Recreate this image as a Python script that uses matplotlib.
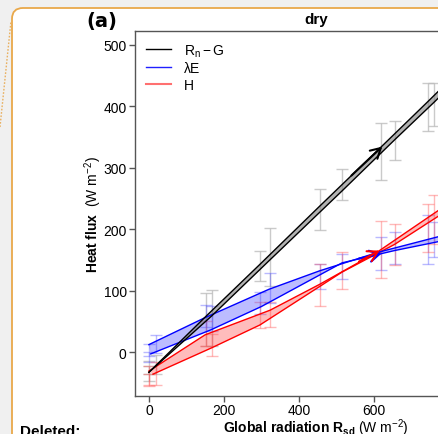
import matplotlib
matplotlib.use("Agg")
import matplotlib.pyplot as plt
from matplotlib.patches import FancyBboxPatch
from matplotlib.lines import Line2D
import numpy as np

plt.rcParams['font.family'] = ['Liberation Sans', 'DejaVu Sans']
plt.rcParams['mathtext.fontset'] = 'custom'
plt.rcParams['mathtext.rm'] = 'Liberation Sans'
plt.rcParams['mathtext.bf'] = 'Liberation Sans:bold'
plt.rcParams['mathtext.it'] = 'Liberation Sans:italic'

# ---- data: band lines (two estimates per flux) ----
rn_a_x = [0, 152, 295, 455, 620, 745, 800]
rn_a_y = [-33, 58, 142, 237, 334, 408, 441]
rn_b_x = [0, 168, 323, 515, 655, 760, 800]
rn_b_y = [-33, 59, 150, 262, 345, 406, 430]

le_a_x = [0, 150, 320, 455, 610, 800]
le_a_y = [12, 56, 102, 132, 162, 192]
le_b_x = [5, 165, 300, 515, 655, 800]
le_b_y = [-3, 36, 74, 145, 165, 183]

h_a_x = [0, 150, 323, 455, 610, 800]
h_a_y = [-31, 28, 68, 110, 163, 242]
h_b_x = [11, 168, 296, 515, 655, 800]
h_b_y = [-36, 7, 44, 130, 175, 232]

# ---- data: binned means with error bars ----
bin_x = [0, 0, 20, 152, 168, 295, 323, 455, 515, 620, 655, 745, 760]
rn_mean = [-35, -25, -20, 53, 55, 140, 155, 232, 272, 326, 344, 398, 402]
rn_err = [12, 10, 15, 43, 46, 25, 47, 33, 25, 46, 32, 39, 35]
le_mean = [3, -8, 13, 58, 55, 80, 104, 123, 139, 160, 169, 183, 183]
le_err = [10, 8, 14, 18, 20, 18, 24, 20, 20, 27, 26, 40, 28]
h_mean = [-38, -45, -35, 30, 12, 60, 61, 109, 132, 167, 175, 201, 216]
h_err = [15, 10, 18, 20, 18, 21, 20, 34, 30, 46, 33, 39, 40]

# ---- data: arrows (start, tip) ----
rn_arrow = [(540, 287), (622, 334)]
le_arrow = [(560, 152), (620, 160)]
h_arrow = [(560, 147), (615, 165)]

x_ticks = [0, 200, 400, 600]
y_ticks = [0, 100, 200, 300, 400, 500]

W, H = 438, 435
fig = plt.figure(figsize=(W / 100, H / 100), dpi=100)
fig.patch.set_facecolor('#f0f0f0')

# document frame (white comment box with orange rounded border)
box = FancyBboxPatch((12 / W, -0.2), 1.2, 1 - 9 / H + 0.2,
                     boxstyle="round,pad=0,rounding_size=0.025",
                     transform=fig.transFigure, facecolor='white',
                     edgecolor='#e9a84a', linewidth=1.3, zorder=-5)
fig.patches.append(box)
fig.lines.append(Line2D([0 / W, 11 / W], [1 - 128 / H, 1 - 22 / H],
                        transform=fig.transFigure, color='#e9b060',
                        linestyle=(0, (1.2, 1.2)), linewidth=1.0, zorder=-4))
fig.text(20 / W, 1 - 425 / H, 'Deleted:', fontsize=11, fontweight='bold',
         va='top', ha='left')

ax = fig.add_axes([135 / W, 1 - 397 / H, (497 - 135) / W, (397 - 32) / H])
ax.set_zorder(1)
ax.set_facecolor('white')

def band(xa, ya, xb, yb, color, fillc, alpha):
    px = list(xa) + list(xb)[::-1]
    py = list(ya) + list(yb)[::-1]
    ax.fill(px, py, color=fillc, alpha=alpha, lw=0, zorder=2)
    ax.plot(xa, ya, color=color, lw=1.0, zorder=3)
    ax.plot(xb, yb, color=color, lw=1.0, zorder=3)

# error bars
ax.errorbar(bin_x, rn_mean, yerr=rn_err, fmt='none', ecolor='#bdbdbd',
            elinewidth=1.0, capsize=4, capthick=1.0, alpha=0.8, zorder=1)
ax.errorbar(bin_x, le_mean, yerr=le_err, fmt='none', ecolor='#5050ff',
            elinewidth=1.0, capsize=4, capthick=1.0, alpha=0.4, zorder=1)
ax.errorbar(bin_x, h_mean, yerr=h_err, fmt='none', ecolor='#ff5050',
            elinewidth=1.0, capsize=4, capthick=1.0, alpha=0.4, zorder=1)

band(h_a_x, h_a_y, h_b_x, h_b_y, '#ff0000', '#ff4040', 0.35)
band(le_a_x, le_a_y, le_b_x, le_b_y, '#0000ff', '#4040ff', 0.35)
band(rn_a_x, rn_a_y, rn_b_x, rn_b_y, '#000000', '#808080', 0.6)

for (s, t), c in [(rn_arrow, 'black'), (le_arrow, '#0000ff'), (h_arrow, '#ff0000')]:
    ax.annotate('', xy=t, xytext=s,
                arrowprops=dict(arrowstyle='->,head_length=0.7,head_width=0.4',
                                color=c, lw=1.5, shrinkA=0, shrinkB=0),
                zorder=4)

ax.set_xlim(-37, 928)
ax.set_ylim(-71.5, 522)
ax.set_xticks(x_ticks)
ax.set_yticks(y_ticks)
ax.tick_params(direction='out', length=4, width=1, color='#555555',
               labelsize=10)
ax.tick_params(axis='x', pad=0.8)
ax.tick_params(axis='y', pad=2)
for sp in ['left', 'bottom', 'top']:
    ax.spines[sp].set_color('#555555')
    ax.spines[sp].set_linewidth(1.0)
ax.spines['right'].set_visible(False)

ax.set_xlabel(r'$\mathbf{Global\ radiation\ R_{sd}}$ (W m$^{-2}$)', fontsize=10)
ax.set_ylabel(r'$\mathbf{Heat\ flux}$  (W m$^{-2}$)', fontsize=10)
ax.xaxis.set_label_coords(0.5, (397 - 417) / 365)
ax.yaxis.set_label_coords((104 - 135) / 362, 0.5)

handles = [Line2D([], [], color='black', lw=1.0),
           Line2D([], [], color='#2020ff', lw=1.0),
           Line2D([], [], color='#ff7070', lw=1.5)]
ax.legend(handles, [r'R$_\mathrm{n}-$G', '\u03bbE', 'H'], loc='upper left',
          frameon=False, fontsize=10, handlelength=1.8, handletextpad=0.9,
          labelspacing=0.2, borderaxespad=0.4)

fig.text(316 / W, 1 - 20 / H, 'dry', fontsize=11, fontweight='bold',
         ha='center', va='center')
fig.text(102 / W, 1 - 21 / H, '(a)', fontsize=14, fontweight='bold',
         ha='center', va='center', family='DejaVu Sans')

fig.savefig('out.png', dpi=100, facecolor=fig.get_facecolor())
